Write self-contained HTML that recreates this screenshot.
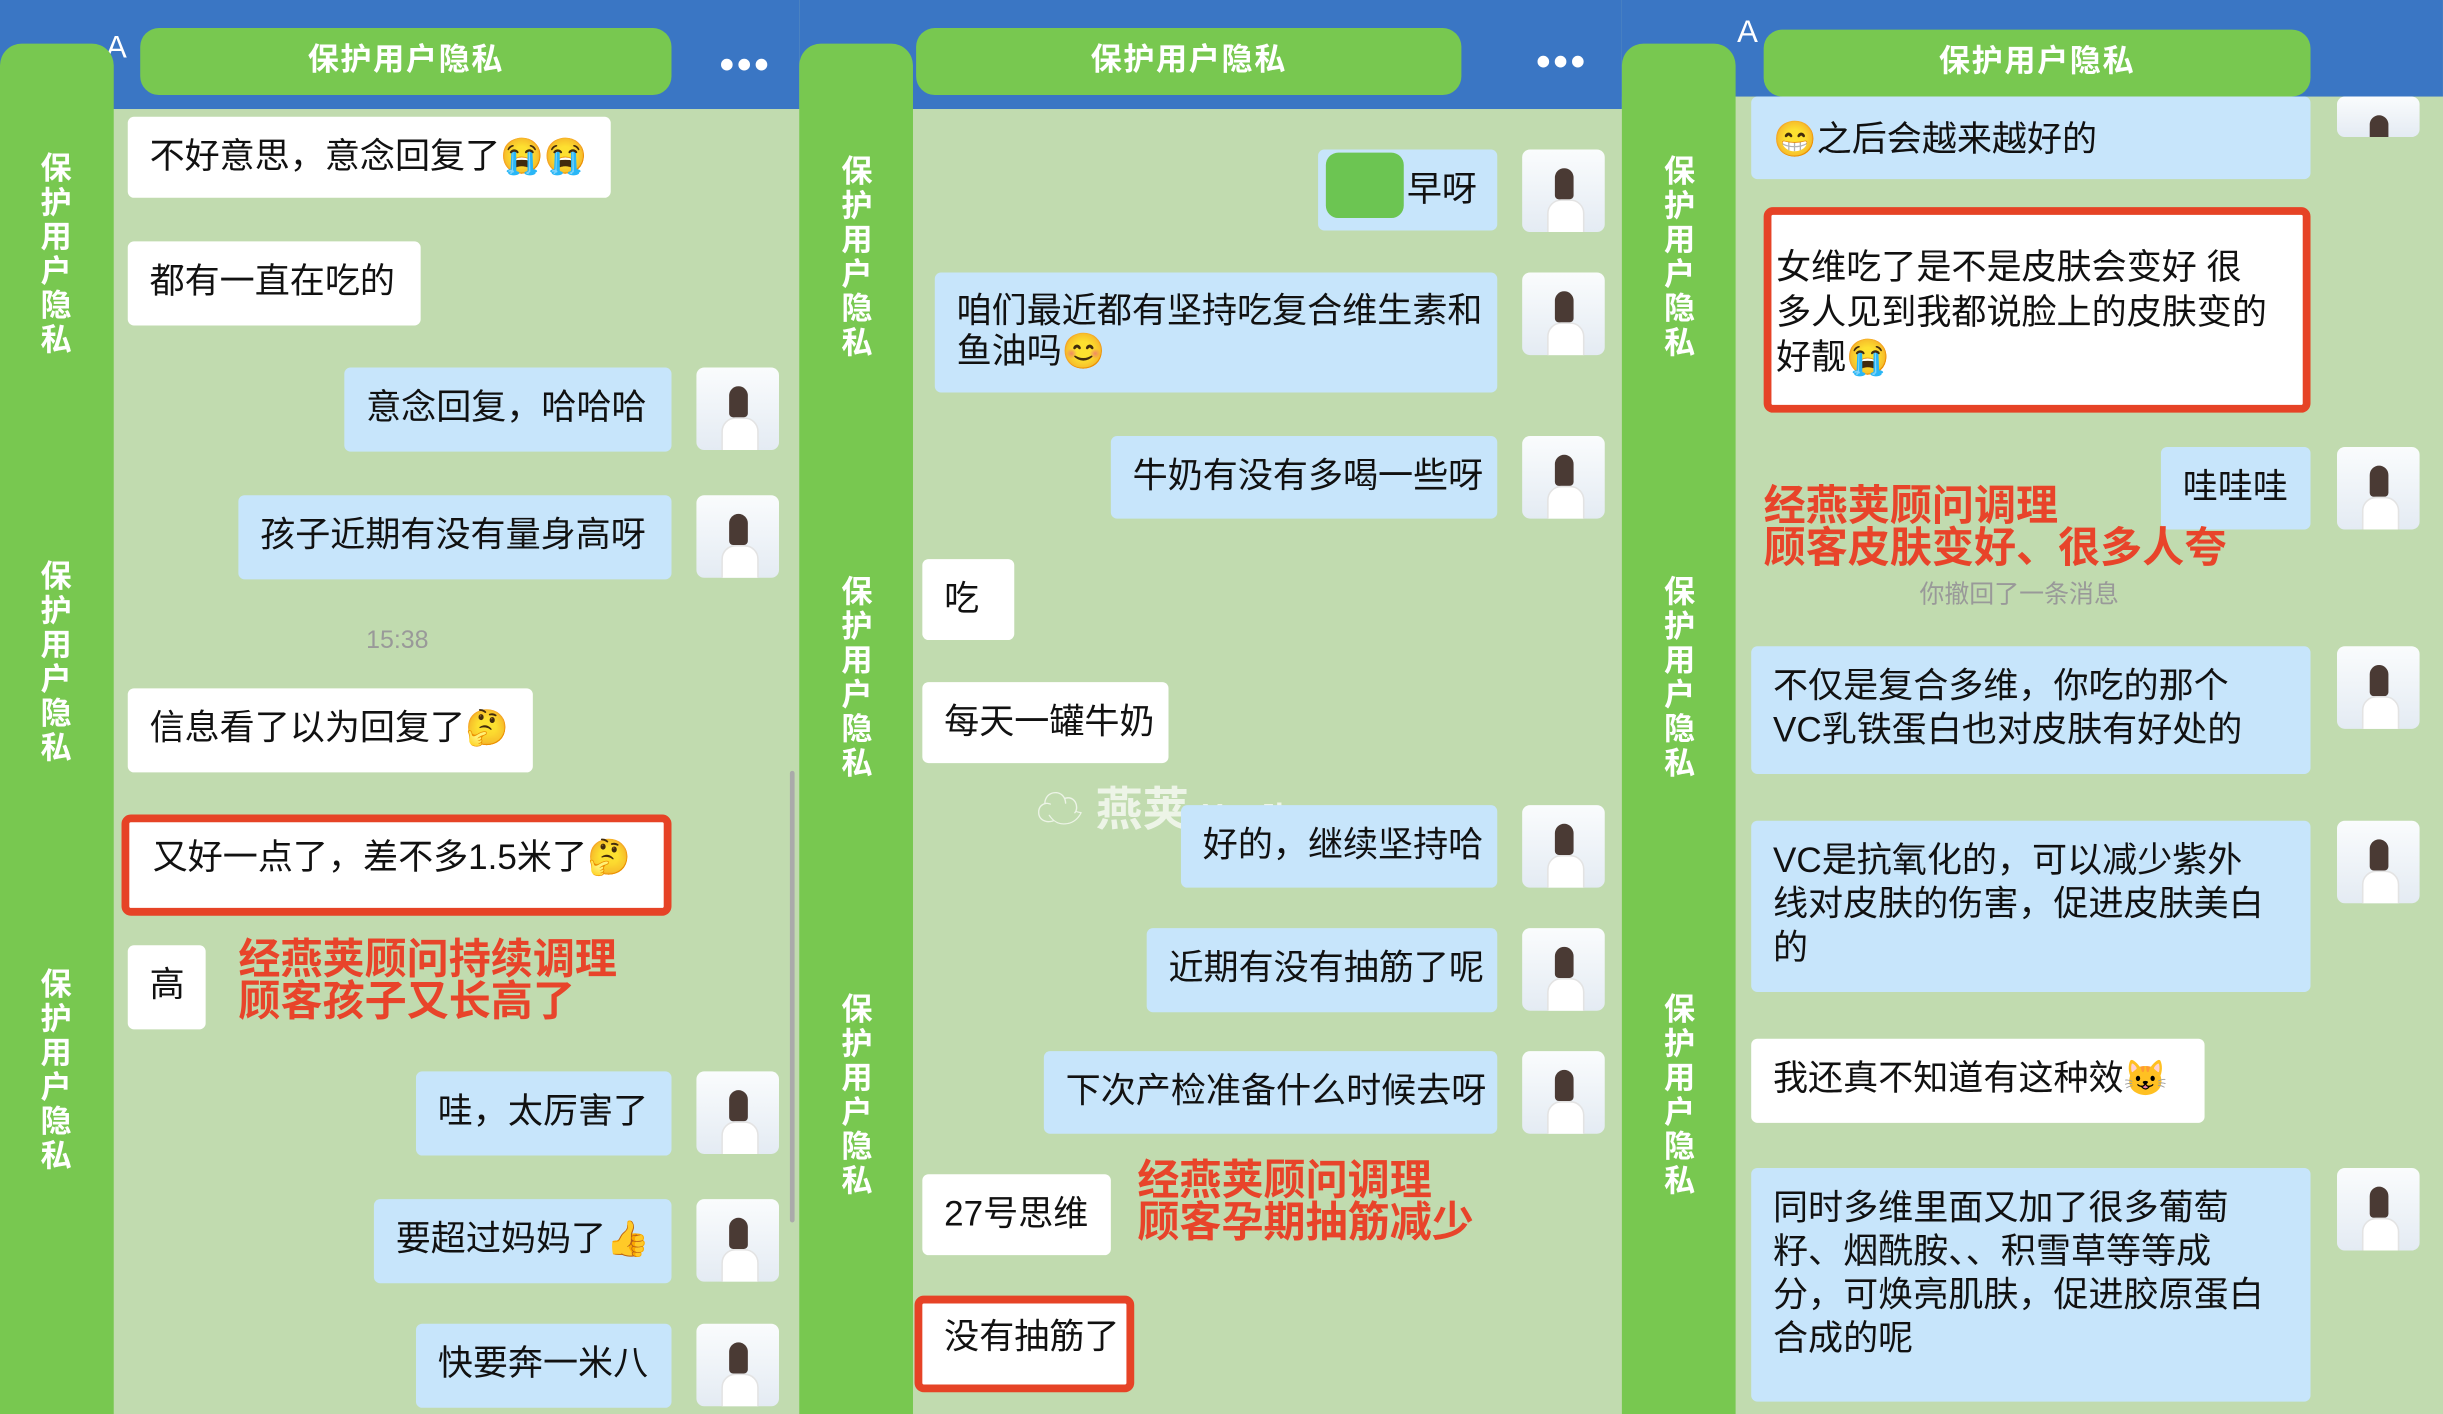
<!DOCTYPE html>
<html><head><meta charset="utf-8"><style>
html,body{margin:0;padding:0;width:2443px;height:1386px;overflow:hidden;background:#c1dbaf}
#w{position:absolute;left:0;top:0;width:1568px;height:890px;transform:scale(1.558,1.5573);transform-origin:0 0;font-family:"Liberation Sans","Noto Sans CJK SC",sans-serif}
#w div{position:absolute;box-sizing:border-box}
.hd{background:#3a76c4;top:0;height:70px}
.bar{background:#78c850;top:28px;height:880px;width:73px;border-radius:14px 14px 0 0}
.pill{background:#78c850;height:43px;border-radius:12px;color:#fff;font-weight:bold;font-size:20px;text-align:center;line-height:43px;letter-spacing:1px}
.vt{color:#fff;font-weight:bold;font-size:20px;width:24px;line-height:22px;text-align:center}
.b{border-radius:4px;font-size:22.5px;line-height:28px;padding:12px 14px;color:#111;white-space:nowrap}
.wh{background:#fff}.bl{background:#c7e5fb}
.av{width:53px;height:53px;border-radius:5px;background:linear-gradient(#fafcfd,#e4ebf3);overflow:hidden}
.av::before{content:"";position:absolute;left:21px;top:12px;width:12px;height:20px;border-radius:7px 7px 3px 3px;background:#4a3a34}
.av::after{content:"";position:absolute;left:16px;top:32px;width:22px;height:22px;border-radius:9px 9px 0 0;background:#fff;border:1px solid #e3e3e3}
.red{color:#e8442a;font-weight:bold;font-size:27px;line-height:27px;white-space:nowrap}
.box{border:5px solid #e64326;border-radius:6px}
.dots{color:#fff;font-size:26px;font-weight:bold;letter-spacing:2px}
.gray{color:#999;font-size:16px}
</style></head><body><div id="w">
<div class="hd" style="left:0;width:513px"></div>
<div class="hd" style="left:513px;width:528px"></div>
<div class="hd" style="left:1041px;width:527px;height:62px"></div>
<div style="left:68px;top:20px;color:#fff;font-size:20px">A</div>
<div style="left:1115px;top:10px;color:#fff;font-size:20px">A</div>

<div class="bar" style="left:0"></div>
<div class="bar" style="left:513px"></div>
<div class="bar" style="left:1041px"></div>
<div class="vt" style="left:24px;top:98px">保护用户隐私</div>
<div class="vt" style="left:24px;top:360px">保护用户隐私</div>
<div class="vt" style="left:24px;top:622px">保护用户隐私</div>
<div class="vt" style="left:538px;top:100px">保护用户隐私</div>
<div class="vt" style="left:538px;top:370px">保护用户隐私</div>
<div class="vt" style="left:538px;top:638px">保护用户隐私</div>
<div class="vt" style="left:1066px;top:100px">保护用户隐私</div>
<div class="vt" style="left:1066px;top:370px">保护用户隐私</div>
<div class="vt" style="left:1066px;top:638px">保护用户隐私</div>

<div class="pill" style="left:90px;top:18px;width:341px">保护用户隐私</div>
<div class="pill" style="left:588px;top:18px;width:350px">保护用户隐私</div>
<div class="pill" style="left:1132px;top:19px;width:351px">保护用户隐私</div>
<div class="dots" style="left:462px;top:26px">•••</div>
<div class="dots" style="left:986px;top:24px">•••</div>

<!-- panel 1 -->
<div class="b wh" style="left:82px;top:75px;width:310px;height:52px">不好意思，意念回复了😭😭</div>
<div class="b wh" style="left:82px;top:155px;width:188px;height:54px">都有一直在吃的</div>
<div class="b bl" style="left:221px;top:236px;width:210px;height:54px">意念回复，哈哈哈</div>
<div class="av" style="left:447px;top:236px"></div>
<div class="b bl" style="left:153px;top:318px;width:278px;height:54px">孩子近期有没有量身高呀</div>
<div class="av" style="left:447px;top:318px"></div>
<div class="gray" style="left:235px;top:403px">15:38</div>
<div class="b wh" style="left:82px;top:442px;width:260px;height:54px">信息看了以为回复了🤔</div>
<div class="box" style="left:78px;top:523px;width:353px;height:65px;background:#fff"></div>
<div class="b" style="left:84px;top:525px">又好一点了，差不多1.5米了🤔</div>
<div class="b wh" style="left:82px;top:607px;width:50px;height:54px">高</div>
<div class="red" style="left:153px;top:603px">经燕荚顾问持续调理<br>顾客孩子又长高了</div>
<div class="b bl" style="left:267px;top:688px;width:164px;height:54px">哇，太厉害了</div>
<div class="av" style="left:447px;top:688px"></div>
<div class="b bl" style="left:240px;top:770px;width:191px;height:54px">要超过妈妈了👍</div>
<div class="av" style="left:447px;top:770px"></div>
<div class="b bl" style="left:267px;top:850px;width:164px;height:54px">快要奔一米八</div>
<div class="av" style="left:447px;top:850px"></div>
<div style="left:507px;top:495px;width:3px;height:290px;background:#aaa;border-radius:2px"></div>

<!-- panel 2 -->
<div class="b bl" style="left:846px;top:96px;width:115px;height:52px;padding-left:57px">早呀</div>
<div style="left:851px;top:98px;width:50px;height:42px;background:#6cc552;border-radius:8px"></div>
<div class="av" style="left:977px;top:96px"></div>
<div class="b bl" style="left:600px;top:175px;width:361px;height:77px;line-height:26px">咱们最近都有坚持吃复合维生素和<br>鱼油吗😊</div>
<div class="av" style="left:977px;top:175px"></div>
<div class="b bl" style="left:713px;top:280px;width:248px;height:53px">牛奶有没有多喝一些呀</div>
<div class="av" style="left:977px;top:280px"></div>
<div class="b wh" style="left:592px;top:359px;width:59px;height:52px">吃</div>
<div class="b wh" style="left:592px;top:438px;width:158px;height:52px">每天一罐牛奶</div>
<div style="left:665px;top:495px;color:rgba(255,255,255,.7);font-size:30px;font-weight:bold">☁ 燕荚 <span style="font-size:20px">YanJia</span></div>
<div class="b bl" style="left:758px;top:517px;width:203px;height:53px">好的，继续坚持哈</div>
<div class="av" style="left:977px;top:517px"></div>
<div class="b bl" style="left:736px;top:596px;width:225px;height:54px">近期有没有抽筋了呢</div>
<div class="av" style="left:977px;top:596px"></div>
<div class="b bl" style="left:670px;top:675px;width:291px;height:53px">下次产检准备什么时候去呀</div>
<div class="av" style="left:977px;top:675px"></div>
<div class="b wh" style="left:592px;top:754px;width:121px;height:52px">27号思维</div>
<div class="red" style="left:730px;top:745px">经燕荚顾问调理<br>顾客孕期抽筋减少</div>
<div class="box" style="left:587px;top:832px;width:141px;height:62px;background:#fff"></div>
<div class="b" style="left:592px;top:833px">没有抽筋了</div>

<!-- panel 3 -->
<div class="b bl" style="left:1124px;top:62px;width:359px;height:53px;padding-top:14px">😁之后会越来越好的</div>
<div class="av" style="left:1500px;top:62px;height:26px"></div>
<div class="box" style="left:1132px;top:133px;width:351px;height:132px;background:#fff"></div>
<div class="b" style="left:1126px;top:145px;line-height:29px;padding-left:14px">女维吃了是不是皮肤会变好 很<br>多人见到我都说脸上的皮肤变的<br>好靓😭</div>
<div class="b bl" style="left:1387px;top:287px;width:96px;height:53px">哇哇哇</div>
<div class="av" style="left:1500px;top:287px"></div>
<div class="red" style="left:1132px;top:312px">经燕荚顾问调理<br>顾客皮肤变好、很多人夸</div>
<div class="gray" style="left:1232px;top:368px">你撤回了一条消息</div>
<div class="b bl" style="left:1124px;top:415px;width:359px;height:82px">不仅是复合多维，你吃的那个<br>VC乳铁蛋白也对皮肤有好处的</div>
<div class="av" style="left:1500px;top:415px"></div>
<div class="b bl" style="left:1124px;top:527px;width:359px;height:110px">VC是抗氧化的，可以减少紫外<br>线对皮肤的伤害，促进皮肤美白<br>的</div>
<div class="av" style="left:1500px;top:527px"></div>
<div class="b wh" style="left:1124px;top:667px;width:291px;height:54px">我还真不知道有这种效😺</div>
<div class="b bl" style="left:1124px;top:750px;width:359px;height:150px">同时多维里面又加了很多葡萄<br>籽、烟酰胺、、积雪草等等成<br>分，可焕亮肌肤，促进胶原蛋白<br>合成的呢</div>
<div class="av" style="left:1500px;top:750px"></div>
</div></body></html>
